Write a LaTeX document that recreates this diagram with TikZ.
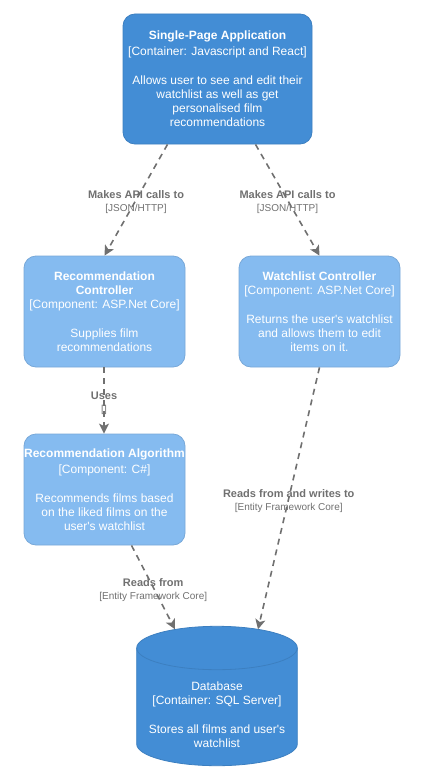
\documentclass[tikz,border=0pt]{standalone}
\usepackage{fontspec}
\setmainfont{Liberation Sans}
\usepackage{xcolor}
\usetikzlibrary{arrows.meta}

\definecolor{containerblue}{HTML}{438DD5}
\definecolor{containerline}{HTML}{3C7FC0}
\definecolor{componentblue}{HTML}{85BBF0}
\definecolor{componentline}{HTML}{78A8D8}
\definecolor{relgray}{HTML}{707070}

\begin{document}
\begin{tikzpicture}[x=1pt, y=-1pt, >={Stealth[length=10pt, width=10pt, inset=2.5pt]},
  container/.style={draw=containerline, fill=containerblue, line width=0.8pt, rounded corners=12pt,
    text=white, align=center, inner sep=0pt, font=\fontsize{12}{14}\selectfont},
  component/.style={container, draw=componentline, fill=componentblue, minimum width=161pt, minimum height=111pt},
  rel/.style={->, draw=relgray, line width=1.6pt, dash pattern=on 6pt off 5pt},
  rellabel/.style={text=relgray, align=center, inner sep=0pt, yshift=-2.5pt, font=\fontsize{11}{13}\selectfont}]
  \useasboundingbox (0,0) rectangle (422,784);

  \node[container, minimum width=189pt, minimum height=130pt] (spa) at (217.5,79)
    {\bfseries Single-Page Application\\[2pt]
     {[}Container: Javascript and React{]}\\[15pt]
     Allows user to see and edit their\\ watchlist as well as get\\ personalised film\\ recommendations};
  \node[component] (rc) at (104.5,311.5)
    {\bfseries Recommendation\\ \bfseries Controller\\[0pt]
     {[}Component: ASP.Net Core{]}\\[15pt]
     Supplies film\\ recommendations};
  \node[component] (wc) at (319.5,311.5)
    {\bfseries Watchlist Controller\\[0pt]
     {[}Component: ASP.Net Core{]}\\[15pt]
     Returns the user\textquotesingle s watchlist\\ and allows them to edit\\ items on it.};
  \node[component] (ra) at (104.5,489.5)
    {\bfseries Recommendation Algorithm\\[2pt]
     {[}Component: C\#{]}\\[15pt]
     Recommends films based\\ on the liked films on the\\ user\textquotesingle s watchlist};

  % database cylinder
  \node[minimum width=160.6pt, minimum height=139pt, inner sep=0pt] (db) at (217,696) {};
  \filldraw[fill=containerblue, draw=containerline, line width=0.8pt]
    (136.7,648) -- (136.7,744) arc[start angle=180, end angle=0, x radius=80.3, y radius=21.7]
    -- (297.3,648) arc[start angle=0, end angle=-180, x radius=80.3, y radius=21.7] -- cycle;
  \draw[containerline, line width=0.8pt]
    (136.7,648) arc[start angle=180, end angle=0, x radius=80.3, y radius=21.7];
  \node[text=white, align=center, font=\fontsize{12}{14}\selectfont] (dbtext) at ([yshift=-19pt]db.center)
    {Database\\[0pt] {[}Container: SQL Server{]}\\[15pt]
     Stores all films and user\textquotesingle s\\ watchlist};

  \draw[rel] ([xshift=-50pt]spa.south) -- (rc.north)
    node[rellabel, midway] {\bfseries Makes API calls to\\ {\fontsize{10}{12}\selectfont [JSON/HTTP]}};
  \draw[rel] ([xshift=38pt]spa.south) -- (wc.north)
    node[rellabel, midway] {\bfseries Makes API calls to\\ {\fontsize{10}{12}\selectfont [JSON/HTTP]}};
  \draw[rel] ([xshift=-0.5pt]rc.south) -- ([xshift=-0.5pt]ra.north)
    node[rellabel, midway] {\bfseries Uses\\ {\fontsize{10}{12}\selectfont []}};
  \draw[rel] ([xshift=27pt]ra.south) -- ([xshift=-42pt, yshift=-3pt]db.north)
    node[rellabel, midway] {\bfseries Reads from\\ {\fontsize{10}{12}\selectfont [Entity Framework Core]}};
  \draw[rel] (wc.south) -- ([xshift=41pt, yshift=-3pt]db.north)
    node[rellabel, midway] {\bfseries Reads from and writes to\\ {\fontsize{10}{12}\selectfont [Entity Framework Core]}};
\end{tikzpicture}
\end{document}
